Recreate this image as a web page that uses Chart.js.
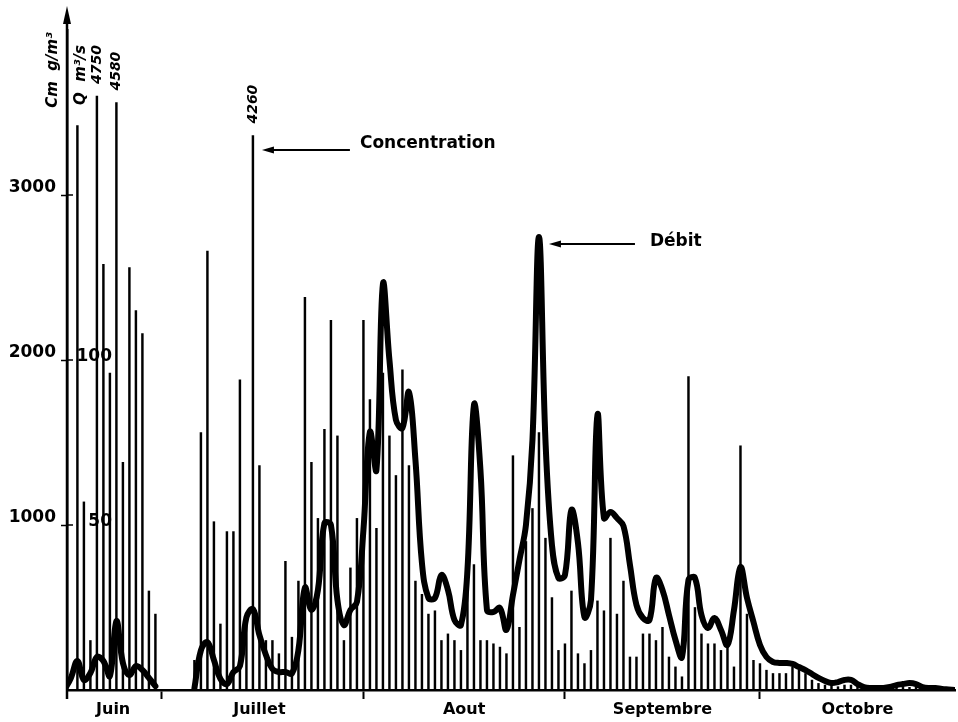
<!DOCTYPE html>
<html>
<head>
<meta charset="utf-8">
<script src="https://cdn.jsdelivr.net/npm/chart.js@4.4.1/dist/chart.umd.min.js"></script>
<style>
html,body{margin:0;padding:0;background:#fff;}
canvas{display:block;}
</style>
</head>
<body>
<canvas id="c" width="958" height="722"></canvas>
<script>
// Day index: 0 = 1 June. Series start at day 15 (16 June) and end at day 152.
const firstDay = 15;

// Discharge Q (m3/s), one value per day from day 15; null = no record
const discharge = [
  0, 73, 176, 61, 103, 200, 176, 85, 418, 164, 91, 145, 121, 73, 24,          // 15-29 (June)
  null, null, null, null, null,                                              // 30-34
  10, 240, 290, 182, 67, 36, 109, 145, 440, 490, 333, 212, 127, 109, 109,    // 35-49
  100, 242, 620, 485, 606, 1012, 1000, 545, 394, 485, 533,                   // 50-60
  970, 1564, 1333, 2461, 2000, 1636, 1588, 1806, 1394, 770, 558, 558, 697,   // 61-73 (Aout)
  606, 424, 394, 727, 1727, 1333, 485, 473, 497, 364, 576, 788, 1000,        // 74-86
  1515, 2745, 1515, 879, 679,                                                // 87-91
  697, 1091, 891, 442, 545, 1667, 1042, 1079, 1042, 994, 758, 515, 436,      // 92-104 (Septembre)
  424, 679, 606, 455, 303, 200, 667, 679, 455, 376, 436, 364, 273, 485,      // 105-118
  745, 558, 412,                                                             // 119-121
  273, 200, 170, 164, 164, 158, 139, 121, 97, 73, 55, 42, 48, 61, 61,        // 122-136 (Octobre)
  36, 18, 12, 12, 12, 18, 30, 36, 42, 36, 18, 12, 12, 6, 3, 0                // 137-152
];

// Suspended sediment concentration Cm (g/m3) as drawn, one per day from day 15
const concentration = [
  null, null, 171, 57, 15, 180, 129, 96, 178, 69, 128, 115, 108, 30, 23,     // 15-29
  null, null, null, null, null,                                              // 30-34
  9, 78, 133, 51, 20, 48, 48, 94, 22, 168, 68, 15, 15, 11, 39,               // 35-49
  16, 33, 119, 69, 52, 79, 112, 77, 15, 37, 52,                              // 50-60
  112, 88, 49, 96, 77, 65, 97, 68, 33, 29, 23, 24, 15,                       // 61-73
  17, 15, 12, 45, 38, 15, 15, 14, 13, 11, 71, 19, 45,                        // 74-86
  55, 78, 46, 28, 12,                                                        // 87-91
  14, 30, 11, 8, 12, 27, 24, 46, 23, 33, 10, 10, 17,                         // 92-104
  17, 15, 19, 10, 7, 4, 95, 25, 17, 14, 14, 12, 15, 7,                       // 105-118
  74, 23, 9,                                                                 // 119-121
  8, 6, 5, 5, 5, 7, 6, 5, 3, 2, 1.5, 1.5, 1, 1.5, 1.5,                       // 122-136
  1, 0.8, 0.8, 0.8, 0.8, 0.8, 0.8, 0.8, 0.8, 0.8, null, null, null, null, null, null // 137-152
];

// Off-scale concentrations written above their truncated sticks
const offScaleDays = [20, 23, 44];
const offScaleLabels = ['4750', '4580', '4260'];

const monthNames = ['Juin', 'Juillet', 'Aout', 'Septembre', 'Octobre'];
const monthLabelDays = [22.5, 45, 76.5, 107, 137];
const monthBoundaryDays = [30, 61, 92, 122];
const qTicks = [1000, 2000, 3000];      // m3/s
const cmTicks = [50, 100];              // g/m3

const dischargePts = discharge.map((v, i) => ({x: firstDay + i, y: v}));
const concPts = concentration.map((v, i) => ({x: firstDay + i, y: v}));

const FONT = '"DejaVu Sans", "Liberation Sans", sans-serif';

function arrow(ctx, xTip, y, xEnd) {
  ctx.lineWidth = 1.8;
  ctx.beginPath(); ctx.moveTo(xTip + 6, y); ctx.lineTo(xEnd, y); ctx.stroke();
  ctx.beginPath(); ctx.moveTo(xTip, y); ctx.lineTo(xTip + 12, y - 3.5); ctx.lineTo(xTip + 12, y + 3.5); ctx.closePath(); ctx.fill();
}

const annotate = {
  id: 'annotate',
  afterDraw(chart) {
    const {ctx, chartArea: ca, scales} = chart;
    const xs = scales.x, ys = scales.y, y2 = scales.y2;
    const x0 = ca.left;
    ctx.save();
    ctx.strokeStyle = '#000'; ctx.fillStyle = '#000';
    // vertical axis with arrow
    ctx.lineWidth = 2.5;
    ctx.beginPath(); ctx.moveTo(x0, ca.bottom + 9); ctx.lineTo(x0, 16); ctx.stroke();
    ctx.beginPath(); ctx.moveTo(x0, 6); ctx.lineTo(x0 - 4, 24); ctx.lineTo(x0 + 4, 24); ctx.closePath(); ctx.fill();
    // inner halves of the tick marks
    ctx.lineWidth = 1.5;
    qTicks.forEach(v => {
      const y = ys.getPixelForValue(v);
      ctx.beginPath(); ctx.moveTo(x0, y); ctx.lineTo(x0 + 6, y); ctx.stroke();
    });
    // concentration scale labels
    ctx.font = 'bold 17px ' + FONT;
    ctx.textAlign = 'right'; ctx.textBaseline = 'alphabetic';
    cmTicks.forEach(v => ctx.fillText(String(v), x0 + 45, y2.getPixelForValue(v) + 1));
    // axis titles (vertical)
    ctx.font = 'italic bold 15px ' + FONT;
    ctx.textAlign = 'center'; ctx.textBaseline = 'middle';
    [['Cm  g/m³', x0 - 14, 70], ['Q  m³/s', x0 + 14, 75]].forEach(([t, x, y]) => {
      ctx.save(); ctx.translate(x, y); ctx.rotate(-Math.PI / 2); ctx.fillText(t, 0, 0); ctx.restore();
    });
    // values of truncated sticks
    ctx.font = 'italic bold 14px ' + FONT;
    ctx.textAlign = 'left';
    offScaleDays.forEach((d, k) => {
      const x = xs.getPixelForValue(d);
      const top = y2.getPixelForValue(concentration[d - firstDay]);
      ctx.save(); ctx.translate(x, top - 12); ctx.rotate(-Math.PI / 2); ctx.fillText(offScaleLabels[k], 0, 0); ctx.restore();
    });
    // callouts
    ctx.font = 'bold 17px ' + FONT;
    ctx.textBaseline = 'middle'; ctx.textAlign = 'left';
    const cx = xs.getPixelForValue(44) + 9;
    arrow(ctx, cx, 150, cx + 88);
    ctx.fillText('Concentration', cx + 98, 144);
    const dx = xs.getPixelForValue(88) + 10;
    arrow(ctx, dx, 244, dx + 86);
    ctx.fillText('Débit', dx + 101, 242);
    ctx.restore();
  }
};

new Chart(document.getElementById('c'), {
  type: 'bar',
  data: {
    datasets: [
      {
        type: 'line', label: 'Débit', data: dischargePts, yAxisID: 'y',
        borderColor: '#000', borderWidth: 6, pointRadius: 0,
        tension: 0.4, spanGaps: false,
        borderCapStyle: 'round', borderJoinStyle: 'round', order: 0
      },
      {
        type: 'bar', label: 'Concentration', data: concPts, yAxisID: 'y2',
        backgroundColor: '#000', barThickness: 1.8, grouped: false, order: 1
      }
    ]
  },
  options: {
    responsive: false, animation: false, devicePixelRatio: 1,
    layout: {padding: {top: 30, right: 3, left: 0, bottom: 0}},
    plugins: {legend: {display: false}, tooltip: {enabled: false}},
    scales: {
      x: {
        type: 'linear', min: 15.4, max: 152, offset: false, bounds: 'ticks',
        afterBuildTicks: s => {
          s.ticks = monthBoundaryDays.concat(monthLabelDays).sort((a, b) => a - b).map(v => ({value: v}));
        },
        ticks: {
          autoSkip: false, maxRotation: 0, color: '#000', padding: 1,
          font: {family: FONT, weight: 'bold', size: 16},
          callback: v => { const i = monthLabelDays.indexOf(v); return i >= 0 ? monthNames[i] : ''; }
        },
        grid: {
          offset: false, drawOnChartArea: false, tickLength: 9, tickWidth: 2,
          tickColor: c => (c.tick && monthBoundaryDays.includes(c.tick.value)) ? '#000' : 'rgba(0,0,0,0)'
        },
        border: {color: '#000', width: 2.5},
        afterFit: s => { s.height = 32; }
      },
      y: {
        type: 'linear', position: 'left', min: 0, max: 4000,
        afterBuildTicks: s => { s.ticks = qTicks.map(v => ({value: v})); },
        ticks: {
          color: '#000', padding: 5, labelOffset: -7,
          font: {family: FONT, weight: 'bold', size: 17},
          callback: v => String(v)
        },
        grid: {drawOnChartArea: false, tickLength: 6, tickWidth: 1.5, tickColor: '#000'},
        border: {color: '#000', width: 2.5},
        afterFit: s => { s.width = 67; }
      },
      y2: {type: 'linear', display: false, min: 0, max: 200}
    }
  },
  plugins: [annotate]
});
</script>
</body>
</html>
